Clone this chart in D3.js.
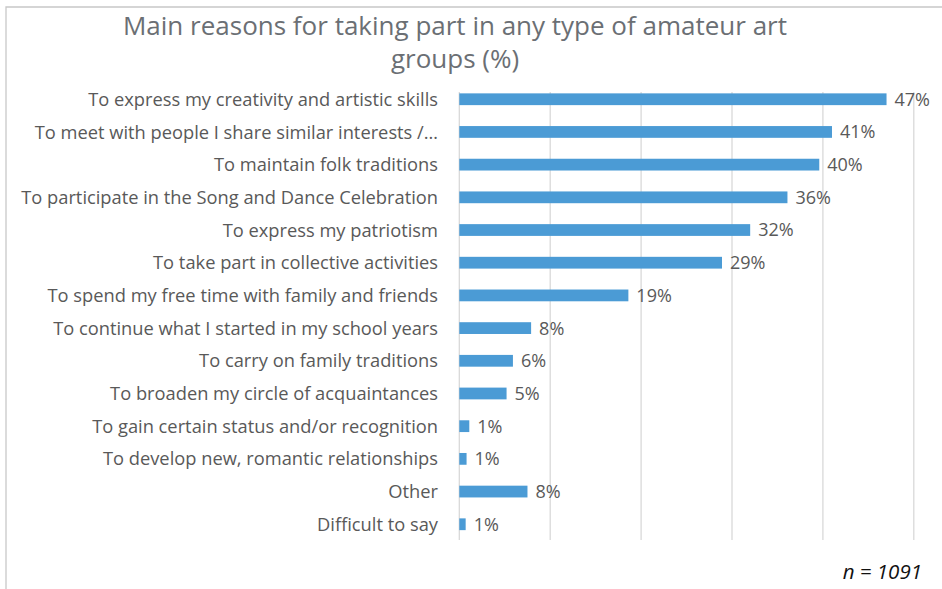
<!DOCTYPE html>
<meta charset="utf-8">
<style>
    body { margin: 0; background: #fff; }
    .title { font: 26px "Open Sans", sans-serif; fill: #6b6f74; }
    .cat { font: 18.3px "Open Sans", sans-serif; fill: #595959; }
    .val { font: 18px "Open Sans", sans-serif; fill: #595959; }
    .note { font: italic 20.5px "Open Sans", sans-serif; fill: #111; }
    .grid { stroke: #d9d9d9; stroke-width: 1.3; }
    .bar { fill: #4b9bd5; }
</style>

<body>
    <script src="https://d3js.org/d3.v7.min.js"></script>
    <script>
        // Data
        var reasons = [
            "To express my creativity and artistic skills",
            "To meet with people I share similar interests /…",
            "To maintain folk traditions",
            "To participate in the Song and Dance Celebration",
            "To express my patriotism",
            "To take part in collective activities",
            "To spend my free time with family and friends",
            "To continue what I started in my school years",
            "To carry on family traditions",
            "To broaden my circle of acquaintances",
            "To gain certain status and/or recognition",
            "To develop new, romantic relationships",
            "Other",
            "Difficult to say"
        ];
        var shares = [47, 41, 39.6, 36.1, 32, 28.9, 18.6, 7.9, 5.9, 5.2, 1.1, 0.8, 7.5, 0.7];
        var gridTicks = [0, 10, 20, 30, 40, 50];
        var titleLines = ["Main reasons for taking part in any type of amateur art", "groups (%)"];
        var sampleNote = "n = 1091";

        var width = 942,
            height = 589;

        var svg = d3.select("body").append("svg")
            .attr("width", width)
            .attr("height", height);

        // chart frame (cut off on the right and bottom)
        svg.append("path")
            .attr("d", "M6,600 V7 H950")
            .attr("fill", "none")
            .attr("stroke", "#c8c8c8")
            .attr("stroke-width", 1.3);

        var x = d3.scaleLinear().domain([0, 50]).range([459.3, 913.8]);
        var y = d3.scaleBand().domain(reasons).range([82.9, 540.6]).paddingInner(0.64).paddingOuter(0.32);

        // gridlines
        svg.append("g")
            .selectAll("line")
            .data(gridTicks)
            .enter().append("line")
            .attr("class", "grid")
            .attr("x1", d => x(d))
            .attr("x2", d => x(d))
            .attr("y1", 92)
            .attr("y2", 540);

        // bars
        svg.append("g")
            .selectAll("rect")
            .data(shares)
            .enter().append("rect")
            .attr("class", "bar")
            .attr("x", x(0))
            .attr("y", (d, i) => y(reasons[i]))
            .attr("width", d => x(d) - x(0))
            .attr("height", y.bandwidth());

        // value labels
        svg.append("g")
            .selectAll("text")
            .data(shares)
            .enter().append("text")
            .attr("class", "val")
            .attr("x", d => x(d) + 8)
            .attr("y", (d, i) => y(reasons[i]) + y.bandwidth() / 2)
            .attr("dy", "0.36em")
            .text(d => Math.round(d) + "%");

        // category labels
        svg.append("g")
            .selectAll("text")
            .data(reasons)
            .enter().append("text")
            .attr("class", "cat")
            .attr("x", 438)
            .attr("y", d => y(d) + y.bandwidth() / 2)
            .attr("dy", "0.36em")
            .attr("text-anchor", "end")
            .text(d => d);

        // title
        svg.append("g")
            .selectAll("text")
            .data(titleLines)
            .enter().append("text")
            .attr("class", "title")
            .attr("x", 455)
            .attr("y", (d, i) => 35 + i * 33)
            .attr("text-anchor", "middle")
            .text(d => d);

        svg.append("text")
            .attr("class", "note")
            .attr("x", 922)
            .attr("y", 579)
            .attr("text-anchor", "end")
            .text(sampleNote);
    </script>
</body>
